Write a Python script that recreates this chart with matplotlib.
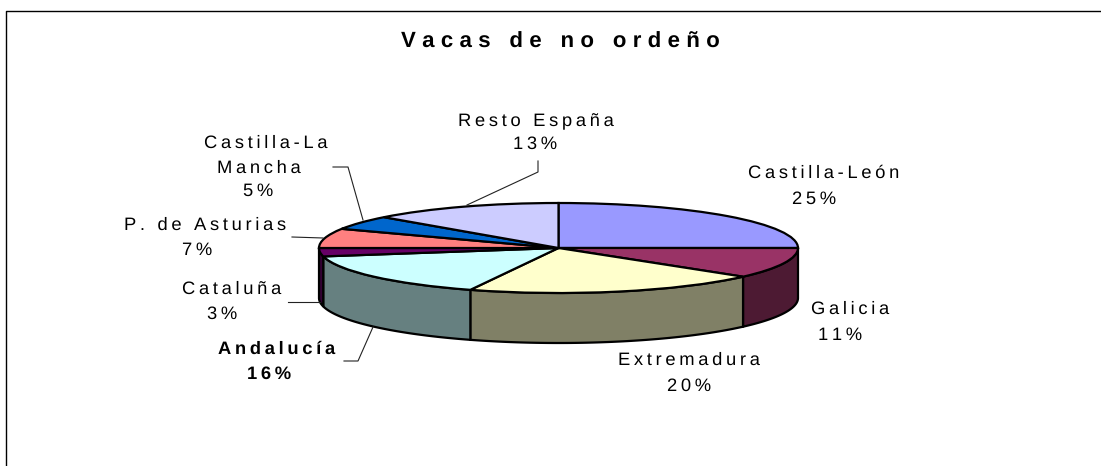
import numpy as np
import matplotlib
matplotlib.use("Agg")
import matplotlib.pyplot as plt
from matplotlib.lines import Line2D

W, H = 1101, 466

regions = ["Castilla-León", "Galicia", "Extremadura", "Andalucía", "Cataluña",
           "P. de Asturias", "Castilla-La Mancha", "Resto España"]
values = [25, 11, 20, 16, 3, 7, 5, 13]
top_colors = ["#9999FF", "#993366", "#FFFFCC", "#CCFFFF", "#660066", "#FF8080", "#0066CC", "#CCCCFF"]
side_colors = ["#4D4D80", "#4D1A33", "#808066", "#668080", "#330033", "#804040", "#003366", "#666680"]
title = "Vacas de no ordeño"

plt.rcParams['font.family'] = ['Liberation Sans', 'DejaVu Sans']
plt.rcParams['text.hinting'] = 'no_hinting'
THIN = "\u2009"
HAIR = "\u200a"


def sp(s, gap=THIN):
    return gap.join(s)


fig = plt.figure(figsize=(W / 100, H / 100), dpi=100)
cx, cy, a, b, depth = 558.5, 248.0, 239.5, 45.0, 50.0
depth_u = depth / b
ax = fig.add_axes([(cx - a) / W, 1 - (cy + b + depth) / H, 2 * a / W, (2 * b + depth) / H])

wedges, _ = ax.pie(values, colors=top_colors, startangle=90, counterclock=False, radius=1,
                   wedgeprops=dict(edgecolor="black", linewidth=1.6, zorder=3))
ax.set_aspect('auto')
ax.set_xlim(-1, 1)
ax.set_ylim(-1 - depth_u, 1)
ax.axis('off')

# side wall of every slice, seen from the front
ends = np.cumsum(values) / np.sum(values) * 2 * np.pi
starts = np.r_[0, ends[:-1]]
for s, e, c in zip(starts, ends, side_colors):
    lo, hi = max(s, np.pi / 2), min(e, 3 * np.pi / 2)
    if hi <= lo:
        continue
    th = np.linspace(lo, hi, 80)
    x, y = np.sin(th), np.cos(th)
    ax.fill(np.r_[x, x[::-1]], np.r_[y, y[::-1] - depth_u], facecolor=c,
            edgecolor="black", linewidth=1.6, zorder=2, clip_on=False)


def T(x, y, s, gap=THIN, **kw):
    fig.text(x / W, 1 - (y + 1.5) / H, sp(s, gap), ha="center", va="center", color="black",
             fontsize=kw.pop("fontsize", 13.2), **kw)


pct = [f"{v}%" for v in values]
T(560, 41, title, fontsize=16, fontweight="bold", gap=THIN + HAIR)
T(824, 172, regions[0]); T(814, 198, pct[0])
T(850, 308, regions[1]); T(840, 334, pct[1])
T(689, 359, regions[2]); T(689, 385, pct[2])
T(277, 348, regions[3], fontweight="bold"); T(269, 373, pct[3], fontweight="bold")
T(232, 288, regions[4]); T(222, 313, pct[4])
T(205, 224, regions[5]); T(197, 249, pct[5])
T(266, 142, "Castilla-La"); T(259, 167, "Mancha"); T(258, 190, pct[6])
T(536, 120, regions[7]); T(535, 143, pct[7])

# leader lines
leaders = [
    [(333, 167), (348, 167), (363, 220)],
    [(292, 237), (323, 238)],
    [(288, 302), (320, 302)],
    [(344, 361), (358, 361), (373, 327)],
    [(467, 205), (538, 172), (538, 161)],
]
for pts in leaders:
    xs, ys = zip(*pts)
    fig.add_artist(Line2D([x / W for x in xs], [1 - y / H for y in ys], color="#222222", lw=0.8))

# frame: only top and left are visible
fig.add_artist(Line2D([6.5 / W, 6.5 / W, 1], [0, 1 - 10.5 / H, 1 - 10.5 / H], color="black", lw=1.0))

fig.savefig("out.png", dpi=100)
